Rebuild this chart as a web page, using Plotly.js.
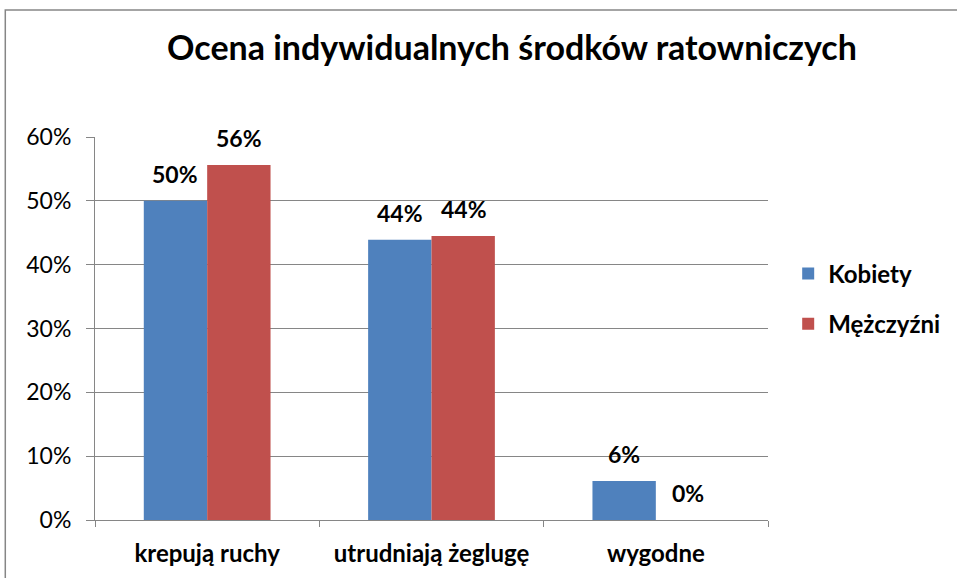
<!DOCTYPE html>
<html><head><meta charset="utf-8">
<script src="https://cdn.plot.ly/plotly-3.0.1.min.js"></script>
<style>html,body{margin:0;padding:0;background:#fff;}#c{width:957px;height:578px;}</style>
</head><body><div id="c"></div>
<script>
const categories = ["krepują ruchy", "utrudniają żeglugę", "wygodne"];
const kobiety = [0.50, 0.439, 0.061];
const mezczyzni = [0.556, 0.445, 0.0];
const kobietyLabels = ["50%", "44%", "6%"];
const mezczyzniLabels = ["56%", "44%", "0%"];
const yTicks = [0, 0.1, 0.2, 0.3, 0.4, 0.5, 0.6];
const yTickText = ["0%", "10%", "20%", "30%", "40%", "50%", "60%"];

const FONT = "Lato, 'Open Sans', sans-serif";
const traces = [
  {type:"bar", name:"Kobiety", x:categories, y:kobiety, marker:{color:"#4F81BD"}, legendgroup:"a", hoverinfo:"skip"},
  {type:"bar", name:"Mężczyźni", x:categories, y:mezczyzni, marker:{color:"#C0504D"}, legendgroup:"b", hoverinfo:"skip"}
];
const annotations = [];
categories.forEach((c,i)=>{
  annotations.push({x:c, y:kobiety[i], xref:"x", yref:"y", text:"<b>"+kobietyLabels[i]+"</b>", showarrow:false, xshift:-32, yshift:27, yanchor:"middle", font:{family:FONT, size:23, color:"#000"}});
  annotations.push({x:c, y:mezczyzni[i], xref:"x", yref:"y", text:"<b>"+mezczyzniLabels[i]+"</b>", showarrow:false, xshift:32, yshift:27, yanchor:"middle", font:{family:FONT, size:23, color:"#000"}});
});
const layout = {
  width:957, height:578,
  margin:{l:95, r:187, t:137, b:58},
  paper_bgcolor:"#fff", plot_bgcolor:"#fff",
  title:{text:"<b>Ocena indywidualnych środków ratowniczych</b>", font:{family:FONT, size:34, color:"#000"}, x:0.535, xanchor:"center", y:0.917, yanchor:"middle"},
  barmode:"group", bargap:0.435, bargroupgap:0,
  xaxis:{type:"category", showline:true, linecolor:"#868686", linewidth:1, ticks:"outside", tickson:"boundaries", ticklen:6, tickcolor:"#868686",
         tickfont:{family:FONT, size:24, color:"#000", weight:"bold"}, ticklabelstandoff:12, showgrid:false, fixedrange:true},
  yaxis:{range:[0,0.6], tickvals:yTicks, ticktext:yTickText, showgrid:true, gridcolor:"#868686", gridwidth:1,
         showline:true, linecolor:"#868686", linewidth:1, ticks:"outside", ticklen:8, tickcolor:"#868686",
         tickfont:{family:FONT, size:23, color:"#000"}, ticklabelstandoff:10, zeroline:false, fixedrange:true},
  showlegend:true,
  legend:{x:1.03, xanchor:"left", y:0.577, yanchor:"middle", font:{family:FONT, size:24, color:"#000", weight:"bold"}, traceorder:"grouped", tracegroupgap:16, itemwidth:30},
  annotations:annotations,
  shapes:[{type:"rect", xref:"paper", yref:"paper", x0:-0.1333, x1:1.5, y0:-0.3, y1:1.3316, line:{color:"#868686", width:1.5}, fillcolor:"rgba(0,0,0,0)", layer:"below"}]
};
Plotly.newPlot("c", traces, layout, {staticPlot:true});
</script></body></html>
